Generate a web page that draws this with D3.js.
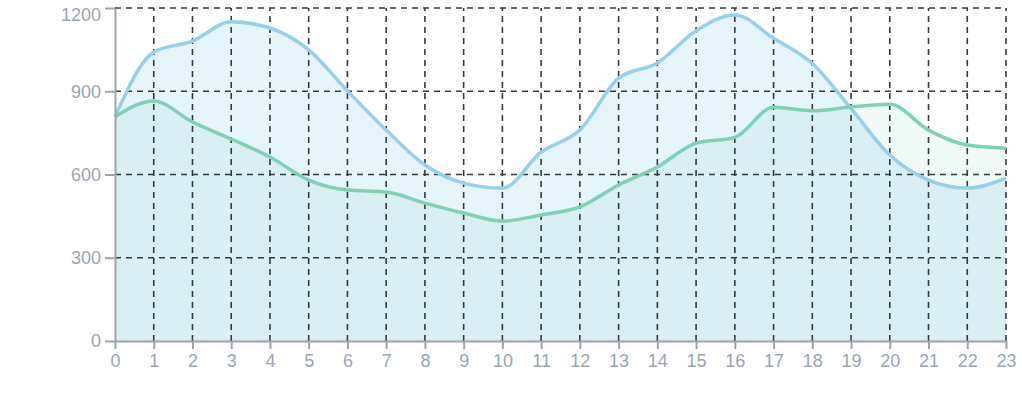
<!DOCTYPE html>
<html>
<head>
<meta charset="utf-8">
<script src="https://cdn.jsdelivr.net/npm/d3@7"></script>
<style>
  body { margin: 0; background: #fff; }
  svg { display: block; font-family: "Liberation Sans", Arial, sans-serif; }
</style>
</head>
<body>
<div id="chart"></div>
<script>
// Data
const hours = d3.range(0, 24);
const blueValues = [808, 1041, 1081, 1150, 1128, 1049, 901, 760, 634, 569, 551, 681, 760, 947, 1002, 1118, 1175, 1091, 1000, 838, 670, 580, 551, 587];
const greenValues = [808, 865, 789, 728, 663, 580, 544, 537, 497, 461, 432, 454, 483, 562, 627, 713, 734, 842, 830, 843, 853, 760, 706, 695];
const yTicks = [0, 300, 600, 900, 1200];

// Dimensions
const margin = { top: 8, right: 16, bottom: 65, left: 115 };
const width = 1022 - margin.left - margin.right;
const height = 406 - margin.top - margin.bottom;

const svg = d3.select('#chart')
    .append('svg')
    .attr('width', 1022)
    .attr('height', 406)
    .append('g')
    .attr('transform', `translate(${margin.left}, ${margin.top})`);

// Scales
const xScale = d3.scaleLinear().domain([0, 23]).range([0, width]);
const yScale = d3.scaleLinear().domain([0, 1200]).range([height, 0]);

const area = vals => d3.area()
    .x((d, i) => xScale(hours[i]))
    .y0(yScale(0))
    .y1(d => yScale(d))
    .curve(d3.curveMonotoneX)(vals);

const line = vals => d3.line()
    .x((d, i) => xScale(hours[i]))
    .y(d => yScale(d))
    .curve(d3.curveMonotoneX)(vals);

// Areas
svg.append('path').attr('d', area(blueValues))
    .attr('fill', '#4fb0e8').attr('fill-opacity', 0.14);
svg.append('path').attr('d', area(greenValues))
    .attr('fill', '#3cc08e').attr('fill-opacity', 0.08);

// Grid
const grid = svg.append('g').attr('class', 'grid')
    .attr('stroke', '#333a42')
    .attr('stroke-width', 1.6)
    .attr('stroke-dasharray', '6,5');
grid.selectAll('.vg').data(hours.slice(1)).enter().append('line')
    .attr('x1', d => xScale(d)).attr('x2', d => xScale(d))
    .attr('y1', yScale(0)).attr('y2', yScale(1200));
grid.selectAll('.hg').data(yTicks.slice(1)).enter().append('line')
    .attr('x1', 0).attr('x2', width)
    .attr('y1', d => yScale(d)).attr('y2', d => yScale(d));

// Lines
svg.append('path').attr('d', line(blueValues))
    .attr('fill', 'none').attr('stroke', '#95d1ea').attr('stroke-width', 3.5);
svg.append('path').attr('d', line(greenValues))
    .attr('fill', 'none').attr('stroke', '#7bd3b5').attr('stroke-width', 3.5);

// Axes
const axisColor = '#9aa5b1';
const xAxis = svg.append('g')
    .attr('transform', `translate(0, ${height})`)
    .call(d3.axisBottom(xScale).tickValues(hours).tickFormat(d3.format('d')).tickSize(8).tickSizeOuter(0).tickPadding(5));
const yAxis = svg.append('g')
    .call(d3.axisLeft(yScale).tickValues(yTicks).tickFormat(d3.format('d')).tickSize(10).tickSizeOuter(0).tickPadding(4));

[xAxis, yAxis].forEach(ax => {
    ax.select('.domain').attr('stroke', axisColor).attr('stroke-width', 2);
    ax.selectAll('.tick line').attr('stroke', axisColor).attr('stroke-width', 2);
    ax.selectAll('.tick text').attr('fill', axisColor).style('font-size', '18px');
});

// Keep the top label inside the picture
yAxis.selectAll('.tick text').filter(d => d === 1200).attr('dy', '0.68em');
</script>
</body>
</html>
